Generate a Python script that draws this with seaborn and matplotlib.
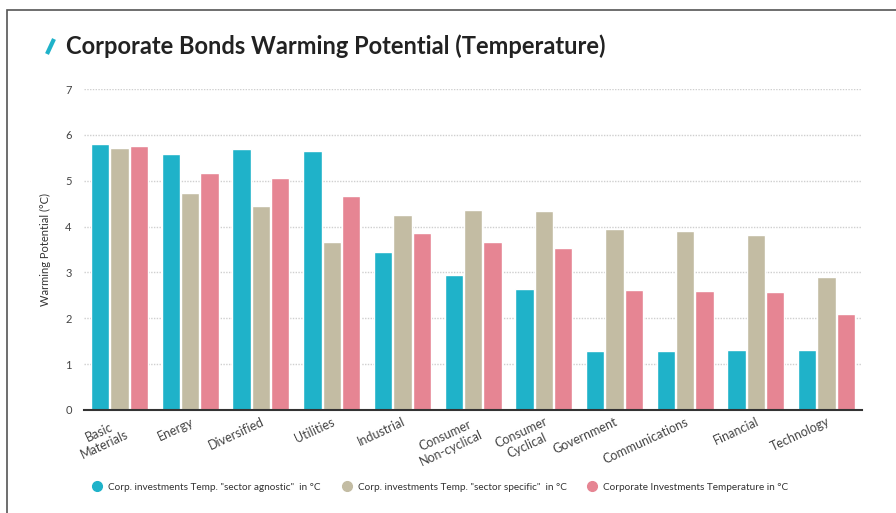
import pandas as pd
import numpy as np
import matplotlib.pyplot as plt
import seaborn as sns
from matplotlib.lines import Line2D
import matplotlib.patches as mpatches

sns.set_theme(style="white")
plt.rcParams['font.family'] = ['Lato', 'DejaVu Sans']

# Data
sectors = ["Basic\nMaterials", "Energy", "Diversified", "Utilities", "Industrial",
           "Consumer\nNon-cyclical", "Consumer\nCyclical", "Government",
           "Communications", "Financial", "Technology"]
agnostic = [5.80, 5.58, 5.69, 5.65, 3.45, 2.94, 2.64, 1.29, 1.29, 1.31, 1.31]
specific = [5.71, 4.73, 4.45, 3.66, 4.25, 4.36, 4.34, 3.95, 3.90, 3.82, 2.90]
overall = [5.76, 5.17, 5.06, 4.67, 3.86, 3.66, 3.53, 2.62, 2.59, 2.57, 2.09]
series = ['Corp. investments Temp. "sector agnostic"  in °C',
          'Corp. investments Temp. "sector specific"  in °C',
          'Corporate Investments Temperature in °C']
colors = ["#1fb2c9", "#c3bca3", "#e68593"]

df = pd.DataFrame({
    "Sector": sectors * 3,
    "Series": np.repeat(series, len(sectors)),
    "Value": agnostic + specific + overall,
})

fig = plt.figure(figsize=(8.96, 5.13), dpi=100)
ax = fig.add_axes([0.094, 0.2008, 0.868, 0.6257])

sns.barplot(data=df, x="Sector", y="Value", hue="Series", palette=colors,
            width=0.82, gap=0.05, saturation=1, ax=ax, legend=False)

ax.set_ylim(0, 7)
ax.set_yticks(range(0, 8))
ax.set_xlim(-0.5, len(sectors) - 0.5)
ax.yaxis.grid(True, linestyle=(0, (1, 1)), color="#cfcfcf", linewidth=1)
ax.set_axisbelow(True)
for s in ["top", "right", "left"]:
    ax.spines[s].set_visible(False)
ax.spines["bottom"].set_color("#333333")
ax.spines["bottom"].set_linewidth(1.5)
ax.tick_params(axis="y", labelsize=8, colors="#444444", length=0, pad=9)
ax.tick_params(axis="x", labelsize=9, colors="#444444", length=0, pad=4)
ax.set_xlabel("")
ax.set_ylabel("Warming Potential (°C)", fontsize=8, color="#333333", labelpad=10)
for lab in ax.get_xticklabels():
    lab.set_rotation(25)
    lab.set_ha("right")
    lab.set_rotation_mode("anchor")
    lab.set_multialignment("center")

# card border
fig.patches.append(mpatches.Rectangle((7 / 896, -0.2), 1.2, 0.2 + 1 - 10 / 513,
                                      transform=fig.transFigure, fill=False,
                                      edgecolor="#555555", linewidth=1.2))

# title with accent slash
fig.add_artist(Line2D([47 / 896, 54 / 896], [1 - 54 / 513, 1 - 39 / 513],
                      transform=fig.transFigure, color="#1fb2c9", linewidth=3.0,
                      solid_capstyle="butt"))
fig.text(66 / 896, 1 - 46 / 513, "Corporate Bonds Warming Potential (Temperature)",
         fontsize=17, fontweight="bold", color="#222222", va="center", ha="left")

handles = [Line2D([0], [0], marker="o", linestyle="", markersize=7,
                  markerfacecolor=c, markeredgecolor=c) for c in colors]
fig.legend(handles, series, loc="center left", bbox_to_anchor=(78 / 896, 1 - 487 / 513),
           ncol=3, frameon=False, fontsize=7.2, handletextpad=0.1, columnspacing=1.6,
           labelcolor="#333333")

fig.savefig("out.png", dpi=100)
